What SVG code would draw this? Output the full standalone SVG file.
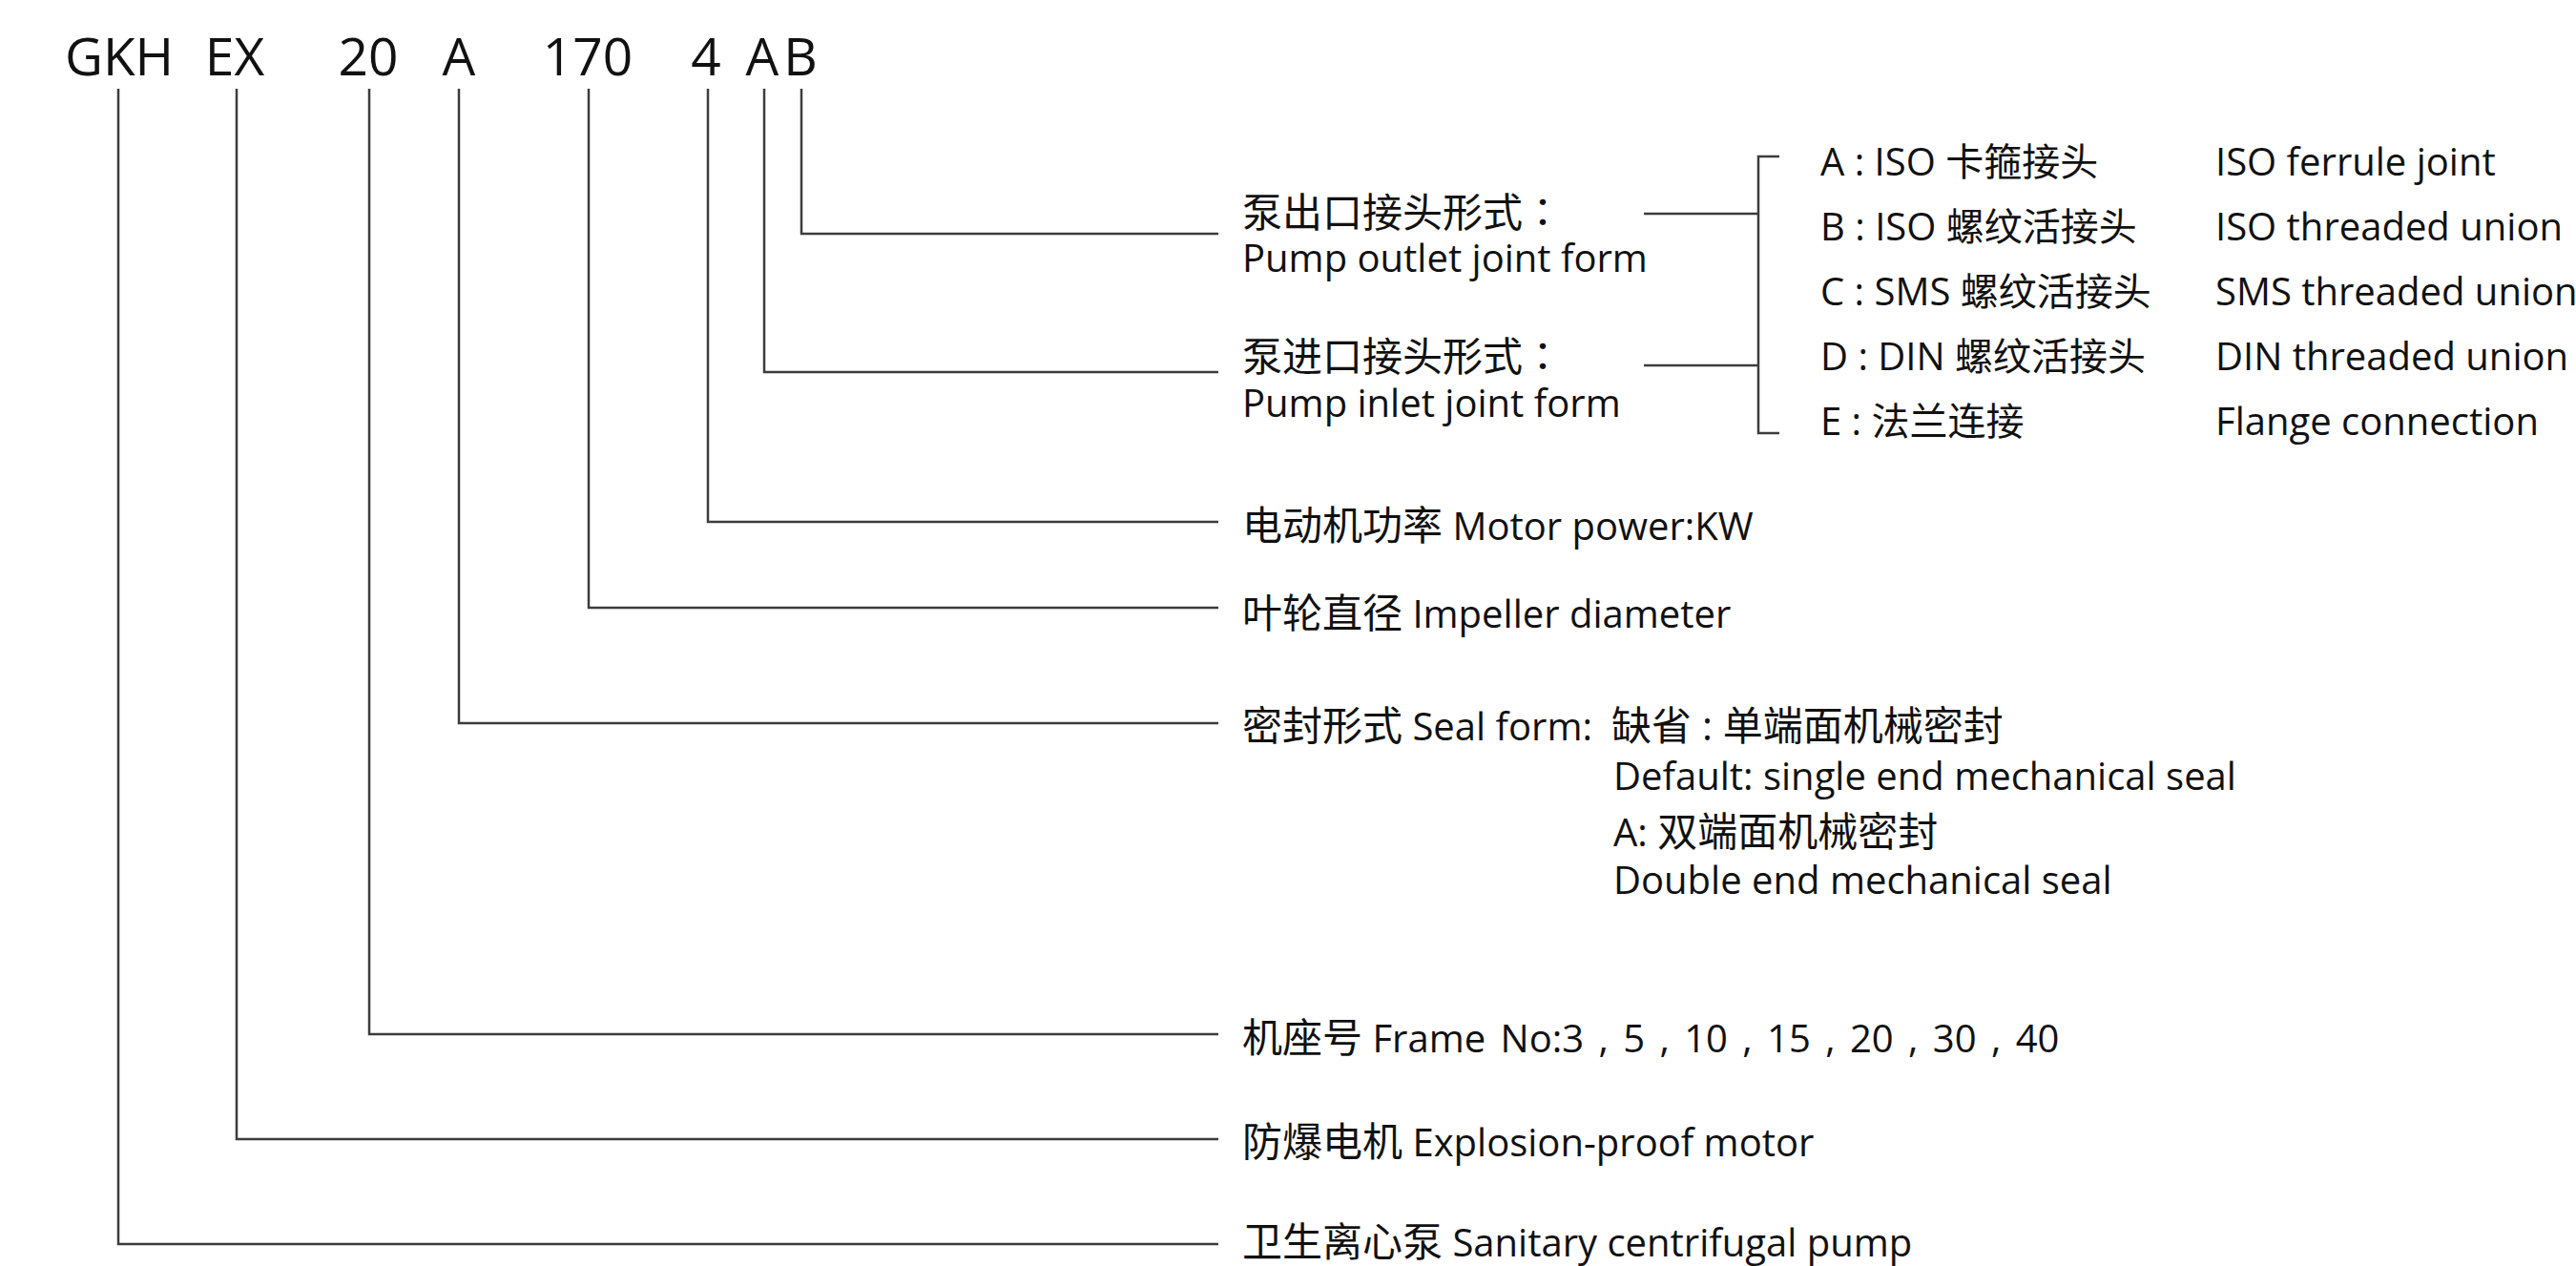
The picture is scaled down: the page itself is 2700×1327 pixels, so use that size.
<svg xmlns="http://www.w3.org/2000/svg" width="2700" height="1327" viewBox="0 0 2700 1327">
  <style>
    text { font-family: "Open Sans", "Noto Sans CJK SC", sans-serif; font-size: 40px; fill: #111; }
    .code { font-size: 55px; }
    .c { font-size: 42px; }
    .p { font-family: "Noto Sans CJK JP", "Noto Sans CJK SC", sans-serif; }
    .ln { fill: none; stroke: #3c3c3c; stroke-width: 2.5; }
  </style>
  <rect width="2700" height="1327" fill="#fff"/>

  <g id="code">
    <text class="code" y="79" text-anchor="middle"><tspan x="125">GKH</tspan><tspan x="246">EX</tspan><tspan x="386">20</tspan><tspan x="481">A</tspan><tspan x="616">170</tspan><tspan x="740">4</tspan><tspan x="799">A</tspan><tspan x="839">B</tspan></text>
  </g>

  <g id="connectors">
    <path class="ln" d="M840,93 V245 H1277"/>
    <path class="ln" d="M801,93 V390 H1277"/>
    <path class="ln" d="M742,93 V547 H1277"/>
    <path class="ln" d="M617,93 V637 H1277"/>
    <path class="ln" d="M481,93 V758 H1277"/>
    <path class="ln" d="M387,93 V1084 H1277"/>
    <path class="ln" d="M248,93 V1194 H1277"/>
    <path class="ln" d="M124,93 V1304 H1277"/>
    <path class="ln" d="M1723,224 H1843"/>
    <path class="ln" d="M1723,383 H1843"/>
    <path class="ln" d="M1865,164 H1843 V454 H1865"/>
  </g>

  <g id="label-outlet">
    <text x="1302" y="238"><tspan class="c">泵出口接头形式</tspan><tspan class="c p">：</tspan><tspan x="1302" y="285">Pump outlet joint form</tspan></text>
  </g>
  <g id="label-inlet">
    <text x="1302" y="389"><tspan class="c">泵进口接头形式</tspan><tspan class="c p">：</tspan><tspan x="1302" y="437">Pump inlet joint form</tspan></text>
  </g>

  <g id="joint-options">
    <text x="1908" y="184">A : ISO 卡箍接头</text>
    <text x="2322" y="184">ISO ferrule joint</text>
    <text x="1908" y="252">B : ISO 螺纹活接头</text>
    <text x="2322" y="252">ISO threaded union</text>
    <text x="1908" y="320">C : SMS 螺纹活接头</text>
    <text x="2322" y="320">SMS threaded union</text>
    <text x="1908" y="388">D : DIN 螺纹活接头</text>
    <text x="2322" y="388">DIN threaded union</text>
    <text x="1908" y="456">E : 法兰连接</text>
    <text x="2322" y="456">Flange connection</text>
  </g>

  <g id="label-motor">
    <text x="1302" y="566"><tspan class="c">电动机功率</tspan> Motor power:KW</text>
  </g>
  <g id="label-impeller">
    <text x="1302" y="658"><tspan class="c">叶轮直径</tspan> Impeller diameter</text>
  </g>
  <g id="label-seal">
    <text x="1302" y="776"><tspan class="c">密封形式</tspan> Seal form: <tspan x="1689" class="c">缺省 : 单端面机械密封</tspan></text>
    <text x="1691" y="828">Default: single end mechanical seal</text>
    <text x="1691" y="887">A: <tspan class="c">双端面机械密封</tspan></text>
    <text x="1691" y="937">Double end mechanical seal</text>
  </g>
  <g id="label-frame">
    <text x="1302" y="1103"><tspan class="c">机座号</tspan> <tspan style="word-spacing:5px">Frame No:3 , 5 , 10 , 15 , 20 , 30 , 40</tspan></text>
  </g>
  <g id="label-explosion">
    <text x="1302" y="1212"><tspan class="c">防爆电机</tspan> Explosion-proof motor</text>
  </g>
  <g id="label-pump">
    <text x="1302" y="1317"><tspan class="c">卫生离心泵</tspan> Sanitary centrifugal pump</text>
  </g>
</svg>
